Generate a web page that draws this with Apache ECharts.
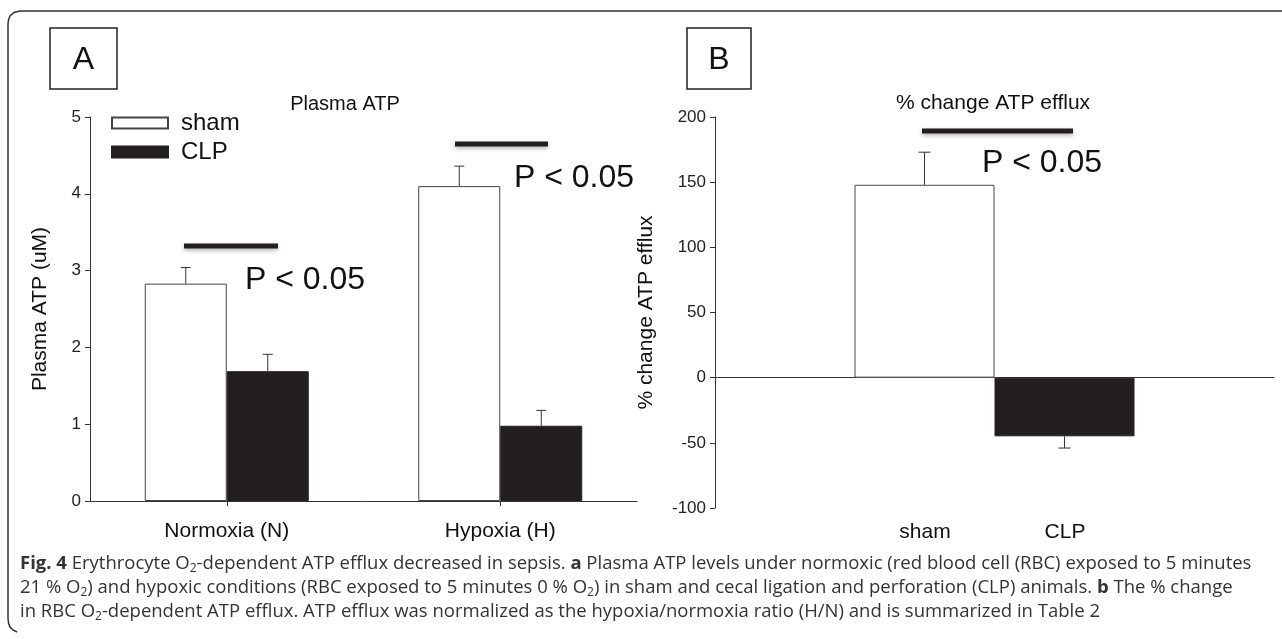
<!DOCTYPE html>
<html>
<head>
<meta charset="utf-8">
<script src="https://cdn.jsdelivr.net/npm/echarts@6/dist/echarts.min.js"></script>
<style>
  html, body { margin: 0; padding: 0; background: #fff; }
  #chart { width: 1282px; height: 639px; }
</style>
</head>
<body>
<div id="chart"></div>
<script>
// panel A: plasma ATP (uM)
const conditions = ['Normoxia (N)', 'Hypoxia (H)']
const shamATP = [2.83, 4.10]
const shamATPErr = [0.21, 0.26]
const clpATP = [1.69, 0.98]
const clpATPErr = [0.22, 0.20]
const atpTicks = { min: 0, max: 5, interval: 1 }

// panel B: % change ATP efflux
const groups = ['sham', 'CLP']
const effluxChange = [148, -45]
const effluxErr = [25, 9]
const effluxTicks = { min: -100, max: 200, interval: 50 }

const FONT = "'Liberation Sans', Arial, sans-serif"
const NARROW = "'Liberation Sans Narrow', 'Liberation Sans', Arial, sans-serif"
const CAP_FONT = "'Open Sans', 'Noto Sans', sans-serif"
const INK = '#231f20'

const chart = echarts.init(document.getElementById('chart'), null, { renderer: 'canvas' })

// error bar drawn with the axis scales; offset moves it onto the grouped bar
const errorBar = (offset, capHalf) => (params, api) => {
  const v = api.value(1)
  const e = api.value(2)
  const base = api.coord([api.value(0), v])
  const tip = api.coord([api.value(0), v >= 0 ? v + e : v - e])
  const cx = base[0] + offset
  const st = { stroke: '#333', lineWidth: 1 }
  return {
    type: 'group',
    children: [
      { type: 'line', shape: { x1: cx, y1: base[1], x2: cx, y2: tip[1] }, style: st },
      { type: 'line', shape: { x1: cx - capHalf, y1: tip[1], x2: cx + capHalf, y2: tip[1] }, style: st }
    ]
  }
}

const shamStyle = { color: '#fff', borderColor: '#444', borderWidth: 1 }
const clpStyle = { color: INK, borderColor: INK, borderWidth: 1 }

const yLabel = { color: '#222', fontSize: 17, fontFamily: NARROW, margin: 9 }
const yTick = { show: true, length: 5, inside: false, lineStyle: { color: '#333' } }
const axisLn = { show: true, lineStyle: { color: '#333', width: 1 } }

const sigBar = (x1, x2, y) => ({
  type: 'line',
  shape: { x1, y1: y, x2, y2: y },
  style: { stroke: INK, lineWidth: 5, shadowBlur: 4, shadowOffsetY: 2, shadowColor: 'rgba(0,0,0,0.3)' }
})
const pText = (x, y) => ({
  type: 'text', x, y,
  style: { text: 'P < 0.05', font: `32px ${FONT}`, fill: '#111', textVerticalAlign: 'middle' }
})
const panelBox = (x, w, letter) => ({
  type: 'group',
  children: [
    { type: 'rect', shape: { x, y: 28, width: w, height: 61 }, style: { fill: '#fff', stroke: '#222', lineWidth: 1.5 } },
    { type: 'text', x: x + w / 2, y: 60, style: { text: letter, font: `32px ${FONT}`, fill: '#111', textAlign: 'center', textVerticalAlign: 'middle' } }
  ]
})

const capRich = {
  b: { fontFamily: CAP_FONT, fontWeight: 'bold', fontSize: 18.5, lineHeight: 22, color: '#111' },
  sub: { fontFamily: CAP_FONT, fontSize: 12, color: '#333', verticalAlign: 'bottom', lineHeight: 9 }
}
const capLine = (y, text) => ({
  type: 'text', x: 20, y,
  style: {
    text, rich: capRich,
    fontFamily: CAP_FONT, fontSize: 18.5, lineHeight: 22, fill: '#333',
    textVerticalAlign: 'middle'
  }
})
const caption = [
  '{b|Fig. 4} Erythrocyte O{sub|2}-dependent ATP efflux decreased in sepsis. {b|a} Plasma ATP levels under normoxic (red blood cell (RBC) exposed to 5 minutes',
  '21 % O{sub|2}) and hypoxic conditions (RBC exposed to 5 minutes 0 % O{sub|2}) in sham and cecal ligation and perforation (CLP) animals. {b|b} The % change',
  'in RBC O{sub|2}-dependent ATP efflux. ATP efflux was normalized as the hypoxia/normoxia ratio (H/N) and is summarized in Table 2'
]

const option = {
  animation: false,
  backgroundColor: '#fff',
  textStyle: { fontFamily: FONT },
  grid: [
    { left: 90, right: 645, top: 117, bottom: 138 },
    { left: 715, right: 8, top: 117, bottom: 131 },
    { left: 855, width: 280, top: 117, bottom: 131 }
  ],
  legend: {
    orient: 'vertical', left: 111, top: 111, padding: 0, itemGap: 5,
    itemWidth: 56, itemHeight: 11, icon: 'rect',
    textStyle: { fontSize: 24, color: '#111', fontFamily: FONT, padding: [0, 0, 0, 8] },
    data: ['sham', 'CLP']
  },
  xAxis: [
    {
      type: 'category', gridIndex: 0, data: conditions,
      axisLine: axisLn,
      axisTick: { show: true, alignWithLabel: true, length: 5, lineStyle: { color: '#333' } },
      axisLabel: { color: '#111', fontSize: 21, fontFamily: NARROW, margin: 20 }
    },
    {
      type: 'category', gridIndex: 1, data: [''],
      axisLine: { show: true, onZero: true, lineStyle: { color: '#333', width: 1 } },
      axisTick: { show: false }, axisLabel: { show: false }
    },
    {
      type: 'category', gridIndex: 2, data: groups, position: 'bottom',
      axisLine: { show: false }, axisTick: { show: false },
      axisLabel: { color: '#111', fontSize: 21, fontFamily: NARROW, margin: 14 }
    }
  ],
  yAxis: [
    {
      type: 'value', gridIndex: 0, ...atpTicks,
      name: 'Plasma ATP (uM)', nameLocation: 'middle', nameGap: 39,
      nameTextStyle: { fontSize: 21, color: '#111', fontFamily: FONT },
      axisLine: axisLn, axisTick: yTick, axisLabel: yLabel, splitLine: { show: false }
    },
    {
      type: 'value', gridIndex: 1, ...effluxTicks,
      name: '% change ATP efflux', nameLocation: 'middle', nameGap: 58,
      nameTextStyle: { fontSize: 21, color: '#111', fontFamily: FONT },
      axisLine: axisLn, axisTick: yTick, axisLabel: yLabel, splitLine: { show: false }
    },
    { type: 'value', gridIndex: 2, min: 0, max: 1, show: false }
  ],
  series: [
    { name: 'sham', type: 'bar', xAxisIndex: 0, yAxisIndex: 0, data: shamATP, barWidth: 82, barGap: '0%', itemStyle: shamStyle },
    { name: 'CLP', type: 'bar', xAxisIndex: 0, yAxisIndex: 0, data: clpATP, barWidth: 82, barGap: '0%', itemStyle: clpStyle },
    {
      type: 'custom', xAxisIndex: 0, yAxisIndex: 0, z: 5,
      renderItem: errorBar(-41, 5), data: shamATP.map((v, i) => [i, v, shamATPErr[i]])
    },
    {
      type: 'custom', xAxisIndex: 0, yAxisIndex: 0, z: 5,
      renderItem: errorBar(41, 5), data: clpATP.map((v, i) => [i, v, clpATPErr[i]])
    },
    { name: 'sham', type: 'bar', xAxisIndex: 1, yAxisIndex: 1, data: [effluxChange[0]], barWidth: 140, barGap: '0%', itemStyle: shamStyle },
    { name: 'CLP', type: 'bar', xAxisIndex: 1, yAxisIndex: 1, data: [effluxChange[1]], barWidth: 140, barGap: '0%', itemStyle: clpStyle },
    {
      type: 'custom', xAxisIndex: 1, yAxisIndex: 1, z: 5,
      renderItem: errorBar(-70, 6), data: [[0, effluxChange[0], effluxErr[0]]]
    },
    {
      type: 'custom', xAxisIndex: 1, yAxisIndex: 1, z: 5,
      renderItem: errorBar(70, 6), data: [[0, effluxChange[1], effluxErr[1]]]
    }
  ],
  graphic: [
    // frame: top and left edges with rounded corners
    {
      type: 'polyline', silent: true,
      shape: { points: [[1282, 11], [20, 11], [14, 12.5], [10, 16], [8.5, 20], [8, 24], [8, 618], [8.5, 623], [10, 627], [13, 630], [17, 632]] },
      style: { fill: null, stroke: '#333', lineWidth: 1.5 }
    },
    panelBox(50, 67, 'A'),
    panelBox(687, 64, 'B'),
    { type: 'text', x: 345, y: 104, style: { text: 'Plasma ATP', font: `20px ${NARROW}`, fill: '#111', textAlign: 'center', textVerticalAlign: 'middle' } },
    { type: 'text', x: 993, y: 103, style: { text: '% change ATP efflux', font: `21px ${NARROW}`, fill: '#111', textAlign: 'center', textVerticalAlign: 'middle' } },
    sigBar(184, 278, 246),
    sigBar(455, 548, 144),
    sigBar(922, 1073, 131),
    pText(245, 280),
    pText(514, 178),
    pText(982, 163),
    capLine(564, caption[0]),
    capLine(588, caption[1]),
    capLine(612, caption[2])
  ]
}

chart.setOption(option)
window.addEventListener('resize', () => chart.resize())
</script>
</body>
</html>
